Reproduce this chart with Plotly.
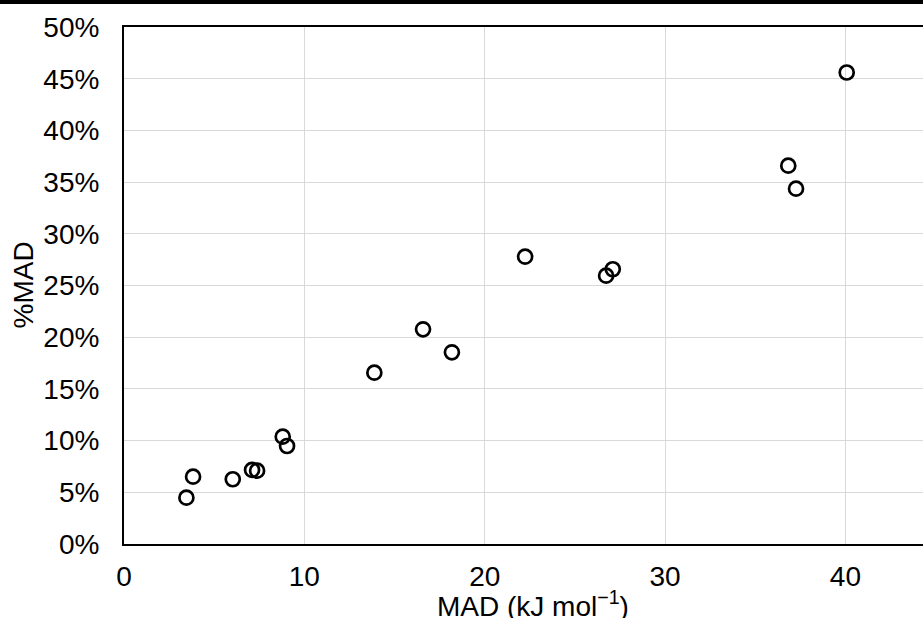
import plotly.graph_objects as go

mad = [3.46, 3.83, 6.03, 7.10, 7.38, 8.80, 9.04, 13.88, 16.58, 18.18,
       22.24, 26.73, 27.10, 36.83, 37.26, 40.07]
pct_mad = [0.0448, 0.0651, 0.0626, 0.0716, 0.0709, 0.1038, 0.0948, 0.1657,
           0.2076, 0.1854, 0.2779, 0.2595, 0.2657, 0.3659, 0.3436, 0.4560]

x_title = "MAD (kJ mol<sup>−1</sup>)"
y_title = "%MAD"

W, H = 923, 618
L, T, B, R = 124, 27, 74, 0
pw, ph = W - L - R, H - T - B

FONT = "Liberation Sans, Arial, Helvetica, sans-serif"
FS = 28

fig = go.Figure(go.Scatter(
    x=mad, y=pct_mad, mode="markers",
    marker=dict(symbol="circle-open", size=14, color="black",
                line=dict(width=2.7, color="black")),
    showlegend=False,
))

fig.update_layout(
    width=W, height=H,
    margin=dict(l=L, r=R, t=T, b=B),
    paper_bgcolor="white", plot_bgcolor="white",
    font=dict(family=FONT, size=FS, color="black"),
    xaxis=dict(range=[0, 44.3], dtick=10, tick0=0, showgrid=True,
               gridcolor="#d9d9d9", gridwidth=1.3, zeroline=False,
               showline=True, linecolor="black", linewidth=2, mirror=True,
               ticks="", ticklabelstandoff=6,
               tickfont=dict(size=FS)),
    yaxis=dict(range=[0, 0.5], dtick=0.05, tick0=0, tickformat=".0%",
               showgrid=True, gridcolor="#d9d9d9", gridwidth=1.3,
               zeroline=False, showline=True, linecolor="black", linewidth=2,
               mirror=False, ticks="", ticklabelstandoff=17,
               tickfont=dict(size=FS)),
    annotations=[
        dict(text=x_title, xref="paper", yref="paper",
             x=(533 - L) / pw, y=(H - B - 604) / ph,
             xanchor="center", yanchor="middle", showarrow=False,
             font=dict(size=FS)),
        dict(text=y_title, xref="paper", yref="paper",
             x=(23 - L) / pw, y=0.5, textangle=-90,
             xanchor="center", yanchor="middle", showarrow=False,
             font=dict(size=FS)),
    ],
    shapes=[
        dict(type="rect", xref="paper", yref="paper",
             x0=-L / pw, x1=1.0, y0=1 + (T - 4) / ph, y1=1 + T / ph,
             fillcolor="black", line=dict(width=0), layer="above"),
    ],
)

fig.write_html("out.html",
               config={"displayModeBar": False},
               post_script="document.body.style.margin='0';"
                           "document.body.style.overflow='hidden';")
